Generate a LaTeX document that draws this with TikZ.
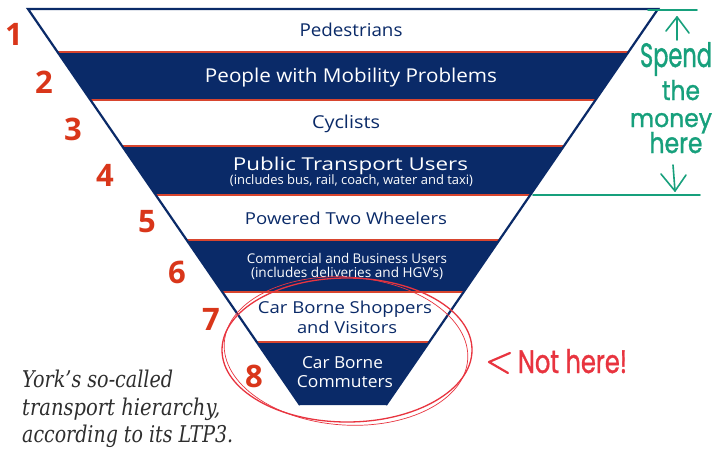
\documentclass[tikz,border=0pt]{standalone}
\usepackage{fontspec}
\usepackage{graphicx}
\setmainfont{Open Sans}
\newfontfamily\capfont{DejaVu Serif}
\newfontfamily\handfont[FakeBold=1.3]{Poppins}
\usetikzlibrary{calc}

\definecolor{navy}{HTML}{0A2A68}
\definecolor{bandred}{HTML}{D8452E}
\definecolor{numred}{HTML}{D9361A}
\definecolor{marker}{HTML}{17A07C}
\definecolor{circred}{HTML}{E8343F}
\definecolor{captext}{HTML}{2E2E2E}

% scale a line of text to a given width (and optionally height)
\newcommand{\fitw}[2]{\resizebox{#1pt}{!}{#2}}
\newcommand{\fitwh}[3]{\resizebox{#1pt}{#2pt}{#3}}

\tikzset{
  bandtxt/.style={anchor=base, inner sep=0pt, text=navy},
  bandtxtw/.style={anchor=base, inner sep=0pt, text=white},
  rank/.style={anchor=center, inner sep=0pt, text=numred,
               font=\fontsize{31}{31}\selectfont\bfseries},
  captn/.style={anchor=base west, inner sep=0pt, text=captext, font=\capfont\itshape},
  hand/.style={anchor=base, inner sep=0pt, text=marker, font=\handfont},
  markline/.style={draw=marker, line width=1.8pt, line cap=round, line join=round},
}

\begin{document}
\begin{tikzpicture}[x=1pt, y=-1pt]
\useasboundingbox (0,0) rectangle (726,450);
\fill[white] (0,0) rectangle (726,450);

% outer corners of the inverted triangle
\coordinate (L0) at (28,9);
\coordinate (R0) at (658,9);
\coordinate (L8) at (300,405);
\coordinate (R8) at (386,405);

% band boundaries along the slanted sides
\foreach \i/\t in {1/0.1086, 2/0.2298, 3/0.3460, 4/0.4697, 5/0.5833, 6/0.7146, 7/0.8409}{
  \coordinate (L\i) at ($(L0)!\t!(L8)$);
  \coordinate (R\i) at ($(R0)!\t!(R8)$);
}

% dark bands
\fill[navy] (L1) -- (R1) -- (R2) -- (L2) -- cycle;
\fill[navy] (L3) -- (R3) -- (R4) -- (L4) -- cycle;
\fill[navy] (L5) -- (R5) -- (R6) -- (L6) -- cycle;
\fill[navy] (L7) -- (R7) -- (R8) -- (L8) -- cycle;

% thin red separators
\foreach \i in {1,...,7}{
  \draw[bandred, line width=1.1pt] (L\i) -- (R\i);
}

% triangle outline
\draw[navy, line width=2.2pt, line join=miter] (L8) -- (L0) -- (R0) -- (R8);

% band captions
\node[bandtxt]  (b1)  at (351,36)  {\fitwh{103}{13.5}{Pedestrians}};
\node[bandtxtw] (b2)  at (351,82)  {\fitwh{292}{14.5}{People with Mobility Problems}};
\node[bandtxt]  (b3)  at (346,128) {\fitwh{68}{13.5}{Cyclists}};
\node[bandtxtw] (b4)  at (350.5,170.5) {\fitwh{235}{13.5}{Public Transport Users}};
\node[bandtxtw] (b4s) at (351.5,184) {\fitw{243}{(includes bus, rail, coach, water and taxi)}};
\node[bandtxt]  (b5)  at (346,224) {\fitwh{202}{12.5}{Powered Two Wheelers}};
\node[bandtxtw] (b6)  at (347,263) {\fitw{200}{Commercial and Business Users}};
\node[bandtxtw] (b6s) at (347,277) {\fitw{192}{(includes deliveries and HGV’s)}};
\node[bandtxt]  (b7)  at (345,313) {\fitwh{174}{12.5}{Car Borne Shoppers}};
\node[bandtxt]  (b7s) at (347,333) {\fitwh{100}{12.5}{and Visitors}};
\node[bandtxtw] (b8)  at (342.5,368) {\fitwh{81}{12}{Car Borne}};
\node[bandtxtw] (b8s) at (345,387) {\fitwh{96}{12}{Commuters}};

% rank numbers
\node[rank] (n1) at (14,34)  {1};
\node[rank] (n2) at (44,82)  {2};
\node[rank] (n3) at (73,129) {3};
\node[rank] (n4) at (105,175) {4};
\node[rank] (n5) at (147,222) {5};
\node[rank] (n6) at (177,272) {6};
\node[rank] (n7) at (211,319) {7};
\node[rank] (n8) at (254,376) {8};

% caption
\node[captn] (c1) at (22,387) {\fitwh{151}{17.5}{York’s so-called}};
\node[captn] (c2) at (22,415) {\fitwh{198}{17.5}{transport hierarchy,}};
\node[captn] (c3) at (22,442) {\fitwh{211}{17.5}{according to its LTP3.}};

% hand-drawn ring round the two lowest bands
\draw[circred, line width=1.3pt] (347,350) ellipse [x radius=125pt, y radius=72pt];
\draw[circred, line width=0.7pt, rotate around={-4:(346,351)}]
  (346,351) ellipse [x radius=122pt, y radius=74pt];

% "not here" remark with its pointer
\coordinate (ltTop) at (510,353);
\coordinate (ltTip) at (489,362);
\coordinate (ltBot) at (508,373);
\draw[circred, line width=2.2pt, line cap=round, line join=round] (ltTop) -- (ltTip) -- (ltBot);
\node[hand, text=circred] (nothere) at (572.5,373) {\fitwh{109}{24}{Not here!}};

% green marker annotation
\coordinate (gTopA) at (648,10);
\coordinate (gTopB) at (697,10);
\coordinate (gBotA) at (533,195);
\coordinate (gBotB) at (700,195);
\draw[markline] (gTopA) -- (gTopB);
\draw[markline] (gBotA) -- (gBotB);

\coordinate (upTip) at (677,17);
\coordinate (upTail) at (677,40);
\draw[markline, line width=1.6pt] (upTail) -- (upTip);
\draw[markline, line width=1.6pt] (666,31) -- (upTip) -- (689,33);

\coordinate (dnTip) at (675,191);
\coordinate (dnTail) at (673,165);
\draw[markline, line width=1.6pt] (dnTail) -- (dnTip);
\draw[markline, line width=1.6pt] (661,174) -- (dnTip) -- (686,175);

\node[hand] (h1) at (676,67)  {\fitwh{72}{25}{Spend}};
\node[hand] (h2) at (681,100) {\fitwh{38}{20}{the}};
\node[hand] (h3) at (671,127) {\fitwh{82}{14}{money}};
\node[hand] (h4) at (676,153) {\fitwh{53}{21}{here}};
\end{tikzpicture}
\end{document}
